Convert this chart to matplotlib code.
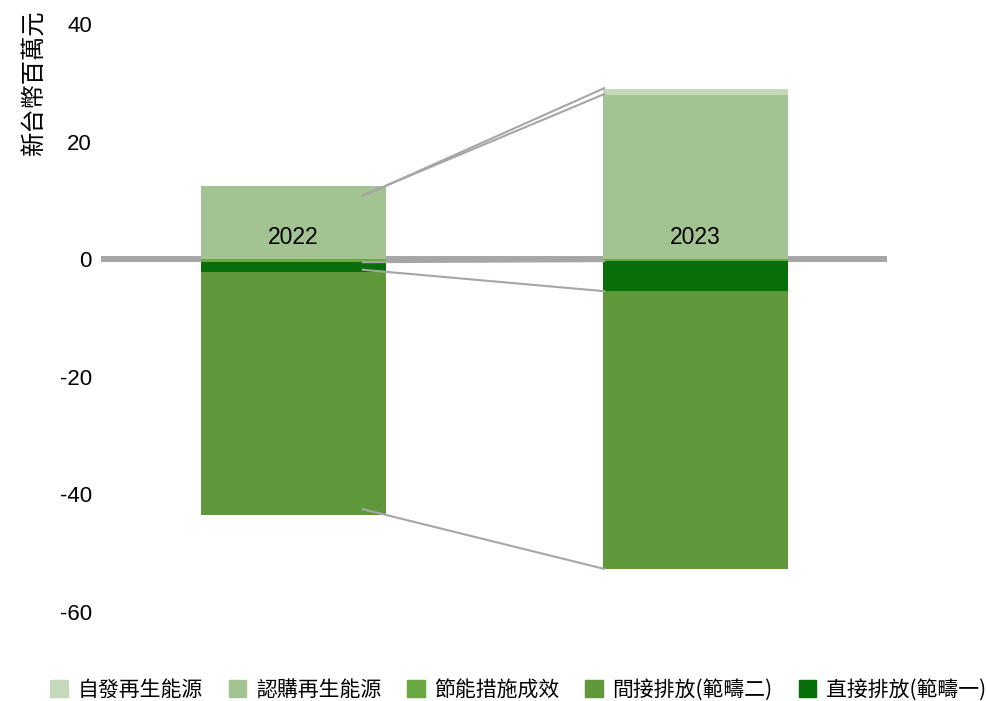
import matplotlib.pyplot as plt
import numpy as np

plt.rcParams['font.family'] = ['Noto Sans CJK TC', 'DejaVu Sans']
plt.rcParams['axes.unicode_minus'] = False

# data (NT$ million)
years = ['2022', '2023']
series = ['自發再生能源', '認購再生能源', '節能措施成效', '間接排放(範疇二)', '直接排放(範疇一)']
self_gen = [0.0, 1.0]
purchased = [12.5, 28.0]
saving = [-0.5, -0.33]
indirect = [-41.35, -47.2]
direct = [-1.65, -5.1]

colors = {'自發再生能源': '#c5d9ba', '認購再生能源': '#a3c492', '節能措施成效': '#6aa842',
          '間接排放(範疇二)': '#60983c', '直接排放(範疇一)': '#086e0a'}
grey = '#a6a6a6'

fig = plt.figure(figsize=(9.86, 7.01), dpi=100)
ax = fig.add_axes([0.1024, 0.127, 0.7972, 0.8388])

x = np.arange(len(years))
w = 0.46

ax.axhline(0, color=grey, lw=4.3, zorder=1)

# positive part stacks upward, negative part downward
pos = np.zeros(2)
neg = np.zeros(2)
bounds = []
for name, vals in [('認購再生能源', purchased), ('自發再生能源', self_gen)]:
    ax.bar(x, vals, w, bottom=pos, color=colors[name], zorder=2)
    pos = pos + np.array(vals)
    bounds.append(pos.copy())
for name, vals in [('節能措施成效', saving), ('直接排放(範疇一)', direct), ('間接排放(範疇二)', indirect)]:
    ax.bar(x, vals, w, bottom=neg, color=colors[name], zorder=2)
    neg = neg + np.array(vals)
    bounds.append(neg.copy())

# series lines between the two columns
ext = 0.06
for b in bounds:
    x0, x1 = x[0] + w / 2, x[1] - w / 2
    slope = (b[1] - b[0]) / (x1 - x0)
    xs = np.array([x0 - ext, x1 + 0.005])
    ax.plot(xs, b[0] + slope * (xs - x0), color=grey, lw=1.5, zorder=3,
            solid_capstyle='butt')

for i, yr in enumerate(years):
    ax.annotate(yr, (x[i], 0), xytext=(0, 15.5), textcoords='offset points',
                ha='center', va='center', fontsize=16.5, family='Liberation Sans', zorder=4)

ax.set_xlim(-0.479, 1.476)
ax.set_ylim(-60, 40)
ax.set_yticks([-60, -40, -20, 0, 20, 40])
ax.set_xticks([])
ax.tick_params(axis='y', length=0, pad=6.5, labelsize=16)
for lbl in ax.get_yticklabels():
    lbl.set_family('Liberation Sans')
for s in ax.spines.values():
    s.set_visible(False)

fig.text(0.0355, 0.986, '新台幣百萬元', rotation=90, ha='center', va='top', fontsize=17.5)

handles = [plt.Rectangle((0, 0), 1, 1, color=colors[n]) for n in series]
fig.legend(handles, series, loc='center', bbox_to_anchor=(0.5255, 0.0157), ncol=5,
           frameon=False, fontsize=15, handlelength=0.85, handleheight=0.85,
           handletextpad=0.45, columnspacing=1.25, borderaxespad=0, borderpad=0)

fig.savefig('out.png', dpi=100)
